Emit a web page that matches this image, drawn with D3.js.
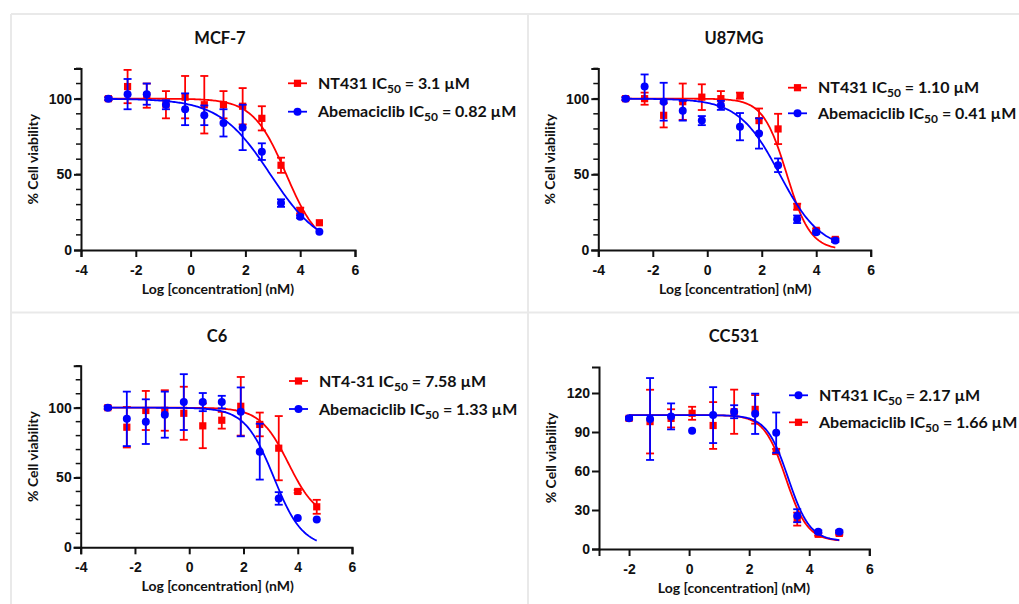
<!DOCTYPE html>
<meta charset="utf-8">
<style>
  body { margin: 0; background: #fff; }
  svg text { font-family: "Lato", "Liberation Sans", sans-serif; font-weight: bold; fill: #111; }
</style>

<!-- Load d3.js -->
<script src="https://d3js.org/d3.v7.min.js"></script>

<div id="my_dataviz"></div>

<script>

// doses, log [concentration] (nM)
var doseA = [-3, -2.3, -1.6, -0.9, -0.2, 0.5, 1.2, 1.9, 2.6, 3.3, 4.0, 4.7];
var doseB = [-2, -1.3, -0.6, 0.1, 0.8, 1.5, 2.2, 2.9, 3.6, 4.3, 5.0];

// MCF-7
var mcfNT = [100, 108, 102, 96, 101, 96, 96, 95, 87, 56, 26, 18];
var mcfNTErr = [1, 11, 8, 9, 14, 19, 9, 12, 8, 5, 2, 0];
var mcfAbe = [100, 103, 103, 96, 93, 89, 84, 81, 65, 31, 22, 12];
var mcfAbeErr = [1, 10, 7, 3, 10.5, 6.5, 9, 15, 5.5, 2.5, 1, 0];
// fitted curve: top, bottom, log IC50, hill
var mcfNTFit = [100, 0, 3.49, 0.72];
var mcfAbeFit = [100, 0, 2.91, 0.47];

// U87MG
var u87NT = [100, 100, 89, 98, 101, 100, 102, 85.5, 80, 28.6, 13, 7];
var u87NTErr = [1, 4, 8, 12, 8.5, 5, 2, 8, 10, 2, 1, 1];
var u87Abe = [100, 108, 98, 92, 85.5, 95.6, 81.5, 77, 56, 20.3, 11.7, 6.2];
var u87AbeErr = [1, 8, 12.5, 6.5, 3, 3, 9, 10, 4.5, 2.5, 1, 1];
var u87NTFit = [100, 0, 2.92, 1.0];
var u87AbeFit = [100, 0, 2.66, 0.58];

// C6
var c6NT = [100, 86, 98, 98, 96, 87, 91, 101, 88, 71, 40, 29];
var c6NTErr = [1, 14.5, 14, 14.5, 19, 16, 6, 21, 8.5, 23, 1, 5];
var c6Abe = [100, 92, 90, 95, 104, 104, 104, 97, 68.5, 35, 21, 20];
var c6AbeErr = [1, 19.5, 16, 16.5, 20, 6.5, 4.5, 17.5, 20, 4.5, 0, 0];
var c6NTFit = [100, 20, 3.66, 0.83];
var c6AbeFit = [100, 0, 3.12, 0.82];

// CC531
var ccNT = [100.5, 100, 102, 91, 103, 105.6, 104, 89.5, 25.6, 13.3, 13.3];
var ccNTErr = [1, 31.5, 10, 0, 21.5, 5, 15.5, 15.5, 5, 1, 1];
var ccAbe = [100.5, 98, 100.5, 104.4, 95, 105.6, 107.4, 75, 23, 11.3, 12];
var ccAbeErr = [1, 24.5, 7, 5, 18, 17, 11, 2, 5, 1, 1];
var ccNTFit = [103, 6, 3.30, 1.2];
var ccAbeFit = [103, 6, 3.22, 1.2];

var red = "#ff0000", blue = "#0000ff";

var svg = d3.select("#my_dataviz")
  .append("svg")
    .attr("width", 1019)
    .attr("height", 604);

// light panel borders
var border = svg.append("g").attr("stroke", "#e9e9e9").attr("stroke-width", 2);
border.append("line").attr("x1", 11).attr("x2", 1019).attr("y1", 14).attr("y2", 14);
border.append("line").attr("x1", 11).attr("x2", 11).attr("y1", 14).attr("y2", 604);
border.append("line").attr("x1", 528).attr("x2", 528).attr("y1", 14).attr("y2", 604);
border.append("line").attr("x1", 11).attr("x2", 1019).attr("y1", 312.5).attr("y2", 312.5);

var panels = [
  { title: "MCF-7", tx: 220, ty: 44,
    xr: [81, 355], xd: [-4, 6], xt: [-4, -2, 0, 2, 4, 6],
    yr: [250, 68.4], yd: [0, 120], yt: [0, 50, 100], ym: d3.range(10, 121, 10),
    ly: [83.3, 111.7], lx: 288,
    series: [
      { dose: doseA, v: mcfNT, e: mcfNTErr, fit: mcfNTFit, c: red, shape: "sq", name: "NT431 IC", rest: " = 3.1 \u00b5M" },
      { dose: doseA, v: mcfAbe, e: mcfAbeErr, fit: mcfAbeFit, c: blue, shape: "ci", name: "Abemaciclib IC", rest: " = 0.82 \u00b5M" }
    ] },
  { title: "U87MG", tx: 734, ty: 44,
    xr: [598.3, 870.7], xd: [-4, 6], xt: [-4, -2, 0, 2, 4, 6],
    yr: [250, 68.4], yd: [0, 120], yt: [0, 50, 100], ym: d3.range(10, 121, 10),
    ly: [87.7, 113.3], lx: 788,
    series: [
      { dose: doseA, v: u87NT, e: u87NTErr, fit: u87NTFit, c: red, shape: "sq", name: "NT431 IC", rest: " = 1.10 \u00b5M" },
      { dose: doseA, v: u87Abe, e: u87AbeErr, fit: u87AbeFit, c: blue, shape: "ci", name: "Abemaciclib IC", rest: " = 0.41 \u00b5M" }
    ] },
  { title: "C6", tx: 217, ty: 342,
    xr: [80.7, 352], xd: [-4, 6], xt: [-4, -2, 0, 2, 4, 6],
    yr: [547.3, 365.8], yd: [0, 130], yt: [0, 50, 100], ym: d3.range(10, 131, 10),
    ly: [381, 409], lx: 289,
    series: [
      { dose: doseA, v: c6NT, e: c6NTErr, fit: c6NTFit, c: red, shape: "sq", name: "NT4-31 IC", rest: " = 7.58 \u00b5M" },
      { dose: doseA, v: c6Abe, e: c6AbeErr, fit: c6AbeFit, c: blue, shape: "ci", name: "Abemaciclib IC", rest: " = 1.33 \u00b5M" }
    ] },
  { title: "CC531", tx: 734, ty: 342,
    xr: [599, 869.3], xd: [-3, 6], xt: [-2, 0, 2, 4, 6],
    yr: [549, 367], yd: [0, 140], yt: [0, 30, 60, 90, 120], ym: [],
    ly: [395.3, 422.3], lx: 789,
    // legend order: NT431 (blue) first, drawn last
    legendOrder: [1, 0],
    series: [
      { dose: doseB, v: ccAbe, e: ccAbeErr, fit: ccAbeFit, c: red, shape: "sq", name: "Abemaciclib IC", rest: " = 1.66 \u00b5M" },
      { dose: doseB, v: ccNT, e: ccNTErr, fit: ccNTFit, c: blue, shape: "ci", name: "NT431 IC", rest: " = 2.17 \u00b5M" }
    ] }
];

function logistic(p, x) {
  return p[1] + (p[0] - p[1]) / (1 + Math.pow(10, (x - p[2]) * p[3]));
}

function marker(g, shape, cx, cy, col) {
  if (shape == "sq") {
    g.append("rect").attr("x", cx - 3.6).attr("y", cy - 3.6)
      .attr("width", 7.2).attr("height", 7.2).attr("fill", col);
  } else {
    g.append("circle").attr("cx", cx).attr("cy", cy).attr("r", 4).attr("fill", col);
  }
}

function styleAxis(a) {
  a.select(".domain").attr("stroke", "#111").attr("stroke-width", 2);
  a.selectAll("line").attr("stroke", "#111").attr("stroke-width", 2);
  a.selectAll("text").style("font-size", "14px").style("font-weight", "bold")
    .style("font-family", "'Liberation Sans', Arial, sans-serif").attr("fill", "#111");
}

panels.forEach(function(p) {
  var x = d3.scaleLinear().domain(p.xd).range(p.xr);
  var y = d3.scaleLinear().domain(p.yd).range(p.yr);
  var g = svg.append("g");

  // title
  g.append("text").attr("x", p.tx).attr("y", p.ty)
    .attr("text-anchor", "middle").style("font-size", "16.5px").text(p.title);

  // X axis
  g.append("g")
    .attr("transform", "translate(0," + p.yr[0] + ")")
    .call(d3.axisBottom(x).tickValues(p.xt).tickFormat(function(d) { return String(d); })
      .tickSizeOuter(0).tickSize(7))
    .call(styleAxis)
    .call(function(a) { a.selectAll("text").attr("y", 15); });

  // Y axis, minor ticks first
  g.append("g").selectAll("line").data(p.ym).enter().append("line")
    .attr("x1", p.xr[0] - 5).attr("x2", p.xr[0])
    .attr("y1", function(d) { return y(d); }).attr("y2", function(d) { return y(d); })
    .attr("stroke", "#111").attr("stroke-width", 1.5);
  g.append("g")
    .attr("transform", "translate(" + p.xr[0] + ",0)")
    .call(d3.axisLeft(y).tickValues(p.yt).tickFormat(function(d) { return String(d); })
      .tickSizeOuter(0).tickSize(7))
    .call(styleAxis)
    .call(function(a) { a.selectAll("text").attr("x", -9); });

  // axis titles
  g.append("text")
    .attr("x", p.xr[0] + (p.xd[0] == -4 ? 137 : 135))
    .attr("y", p.yr[0] + 44)
    .attr("text-anchor", "middle").style("font-size", "14px")
    .text("Log [concentration] (nM)");
  g.append("text")
    .attr("transform", "translate(" + (p.xr[0] - 43) + "," + ((p.yr[0] + p.yr[1]) / 2) + ") rotate(-90)")
    .attr("text-anchor", "middle").style("font-size", "14px")
    .text("% Cell viability");

  // series
  p.series.forEach(function(s) {
    var sg = g.append("g");
    var xs = d3.range(s.dose[0], s.dose[s.dose.length - 1] + 0.001, 0.05);
    sg.append("path")
      .datum(xs)
      .attr("fill", "none").attr("stroke", s.c).attr("stroke-width", 1.8)
      .attr("d", d3.line()
        .x(function(d) { return x(d); })
        .y(function(d) { return y(logistic(s.fit, d)); }));

    s.v.forEach(function(v, i) {
      var e = s.e[i], cx = x(s.dose[i]);
      if (e > 0) {
        var y0 = y(v - e), y1 = y(v + e);
        sg.append("line").attr("x1", cx).attr("x2", cx).attr("y1", y0).attr("y2", y1)
          .attr("stroke", s.c).attr("stroke-width", 1.8);
        sg.append("line").attr("x1", cx - 4).attr("x2", cx + 4).attr("y1", y0).attr("y2", y0)
          .attr("stroke", s.c).attr("stroke-width", 1.8);
        sg.append("line").attr("x1", cx - 4).attr("x2", cx + 4).attr("y1", y1).attr("y2", y1)
          .attr("stroke", s.c).attr("stroke-width", 1.8);
      }
      marker(sg, s.shape, cx, y(v), s.c);
    });
  });

  // legend
  var order = p.legendOrder || [0, 1];
  order.forEach(function(si, k) {
    var s = p.series[si], ly = p.ly[k];
    g.append("line").attr("x1", p.lx).attr("x2", p.lx + 19).attr("y1", ly).attr("y2", ly)
      .attr("stroke", s.c).attr("stroke-width", 1.8);
    marker(g, s.shape, p.lx + 9.5, ly, s.c);
    var t = g.append("text").attr("x", p.lx + 30).attr("y", ly + 5.5).style("font-size", "16px");
    t.append("tspan").text(s.name);
    t.append("tspan").attr("dy", 4).style("font-size", "12px").text("50");
    t.append("tspan").attr("dy", -4).text(s.rest);
  });
});

</script>
